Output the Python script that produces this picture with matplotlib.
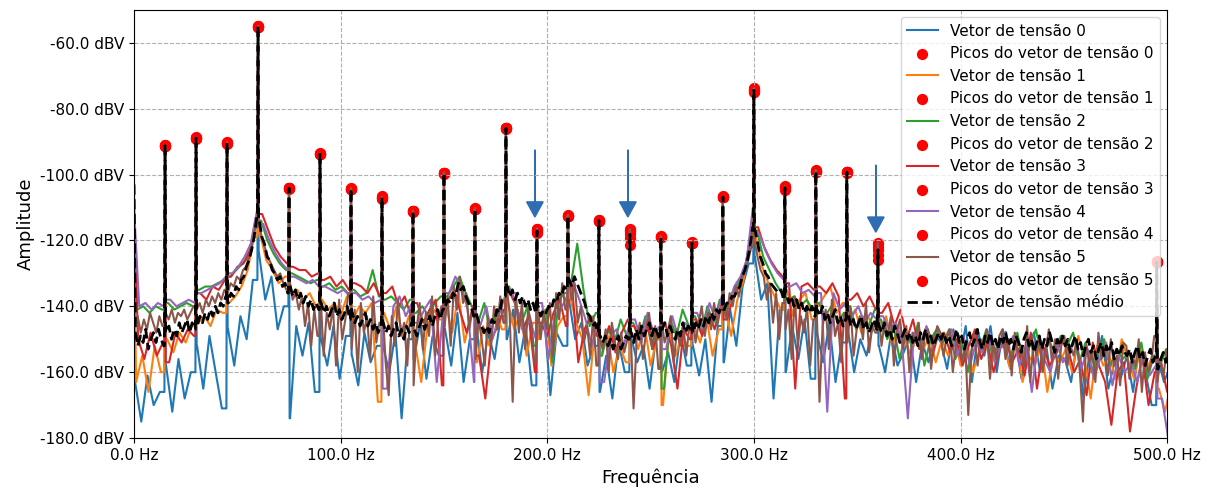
import numpy as np
import matplotlib.pyplot as plt
from matplotlib.ticker import FuncFormatter

# Frequências dos picos (harmônicos de 15 Hz) e níveis [dBV]
peak_freqs = [15, 30, 45, 60, 75, 90, 105, 120, 135, 150, 165, 180, 195, 210,
              225, 240, 255, 270, 285, 300, 315, 330, 345, 360, 495]
peaks_0 = [-91.3, -88.9, -90.4, -55.1, -104.1, -93.8, -104.4, -106.8, -111.1, -99.5, -110.5, -85.9, -116.6,
           -112.6, -114.0, -116.6, -119.0, -120.8, -106.8, -74.3, -103.8, -99.2, -99.2, -120.8, -126.6]
peaks_1 = [-91.0, -89.1, -90.2, -55.0, -104.3, -93.6, -104.2, -107.4, -111.3, -99.7, -110.3, -86.1, -117.8,
           -112.4, -113.8, -119.3, -118.8, -120.6, -106.5, -75.0, -104.6, -99.0, -99.4, -123.0, -126.4]
peaks_2 = [-91.2, -88.8, -90.5, -55.2, -104.0, -93.9, -104.5, -107.0, -111.0, -99.4, -110.6, -85.8, -116.9,
           -112.7, -114.1, -121.4, -119.1, -120.9, -106.9, -74.6, -103.5, -98.7, -99.1, -125.8, -126.7]
peaks_3 = [-91.4, -89.0, -90.3, -55.1, -104.2, -93.7, -104.3, -106.6, -111.2, -99.6, -110.4, -86.0, -117.2,
           -112.5, -113.9, -117.0, -118.9, -120.7, -106.7, -73.6, -104.0, -99.3, -99.3, -122.0, -126.5]
peaks_4 = [-91.1, -88.7, -90.6, -55.0, -104.1, -93.8, -104.4, -107.2, -111.1, -99.5, -110.5, -85.9, -116.5,
           -112.6, -114.0, -118.0, -119.0, -120.8, -106.8, -74.0, -104.2, -99.0, -99.2, -124.5, -126.6]
peaks_5 = [-91.3, -88.9, -90.4, -55.1, -104.1, -93.8, -104.4, -106.9, -111.1, -99.5, -110.5, -85.9, -117.5,
           -112.6, -114.0, -116.8, -119.0, -120.8, -106.8, -74.9, -103.8, -99.2, -99.2, -121.0, -126.6]

# Piso de ruído de cada vetor: 1º valor em 0 Hz, depois passo fixo a partir do offset
offsets = [0.5, 1.0, 1.5, 2.0, 2.5, 0.25]
steps = [3.0, 3.0, 3.0, 3.0, 3.0, 1.5]

vetor_0 = [-125,
           -163, -175, -161, -170, -166, -158, -172, -156, -168, -160,
           -152, -165, -149, -160, -171, -147, -158, -143, -150, -132,
           -124, -138, -131, -147, -140, -174, -146, -155, -145, -166,
           -150, -158, -146, -162, -149, -155, -164, -148, -157, -152,
           -152, -160, -148, -174, -150, -156, -145, -162, -149, -155,
           -147, -158, -142, -163, -150, -145, -160, -148, -156, -143,
           -150, -141, -157, -146, -164, -149, -143, -167, -148, -152,
           -138, -150, -145, -158, -152, -166, -155, -168, -151, -160,
           -149, -157, -152, -165, -150, -160, -154, -163, -148, -158,
           -152, -161, -150, -169, -146, -157, -141, -152, -134, -127,
           -125, -138, -133, -168, -141, -160, -146, -156, -144, -162,
           -148, -157, -145, -163, -151, -147, -160, -150, -155, -146,
           -152, -160, -148, -158, -154, -149, -163, -151, -157, -148,
           -151, -159, -147, -156, -146, -163, -148, -155, -146, -160,
           -147, -158, -150, -162, -153, -148, -160, -152, -165, -155,
           -156, -163, -151, -168, -154, -159, -149, -165, -157, -162,
           -155, -166, -152, -160, -170, -156, -163, -158, -161, -157]

vetor_1 = [-118,
           -163, -155, -166, -152, -160, -150, -154, -148, -151, -146,
           -145, -143, -146, -141, -142, -139, -137, -134, -129, -119,
           -118, -126, -129, -133, -131, -136, -135, -138, -136, -140,
           -138, -141, -139, -143, -137, -144, -140, -142, -139, -169,
           -142, -147, -140, -149, -143, -151, -163, -146, -141, -144,
           -140, -148, -136, -151, -143, -157, -146, -152, -141, -147,
           -139, -147, -142, -155, -145, -150, -141, -158, -146, -143,
           -137, -145, -150, -167, -147, -155, -148, -160, -152, -157,
           -148, -153, -145, -158, -150, -170, -147, -155, -149, -152,
           -146, -151, -143, -155, -147, -140, -149, -138, -132, -120,
           -119, -128, -133, -137, -141, -135, -143, -138, -136, -144,
           -140, -137, -134, -142, -139, -145, -141, -148, -143, -146,
           -147, -143, -152, -146, -150, -155, -148, -153, -149, -157,
           -150, -155, -148, -158, -152, -160, -154, -151, -157, -153,
           -152, -159, -150, -163, -155, -158, -151, -166, -154, -157,
           -153, -160, -149, -156, -168, -152, -158, -155, -162, -150,
           -156, -162, -153, -159, -155, -165, -172, -163, -158, -160]

vetor_2 = [-112,
           -141, -140, -142, -140, -141, -139, -141, -140, -139, -140,
           -135, -134, -134, -133, -132, -131, -129, -127, -125, -116,
           -114, -120, -124, -127, -129, -130, -131, -132, -133, -132,
           -134, -133, -135, -134, -136, -135, -137, -136, -129, -137,
           -138, -137, -139, -141, -138, -142, -140, -143, -139, -137,
           -137, -134, -131, -136, -140, -145, -139, -148, -142, -138,
           -134, -139, -145, -140, -152, -143, -141, -157, -138, -136,
           -133, -121, -135, -146, -142, -155, -147, -151, -144, -149,
           -145, -150, -143, -152, -147, -165, -144, -149, -141, -146,
           -143, -148, -140, -145, -138, -142, -136, -133, -129, -118,
           -117, -125, -129, -133, -136, -138, -137, -140, -138, -141,
           -139, -143, -140, -145, -142, -140, -147, -143, -146, -141,
           -144, -150, -146, -156, -148, -152, -145, -158, -150, -147,
           -151, -147, -156, -150, -160, -149, -153, -147, -155, -151,
           -150, -155, -148, -158, -152, -147, -157, -150, -154, -149,
           -152, -148, -157, -151, -160, -154, -150, -158, -153, -156,
           -154, -159, -151, -162, -155, -158, -153, -160, -156, -158]

vetor_3 = [-115,
           -150, -156, -148, -155, -151, -157, -148, -151, -147, -149,
           -136, -138, -134, -135, -132, -131, -128, -127, -123, -113,
           -112, -117, -122, -125, -127, -128, -129, -129, -131, -130,
           -132, -131, -134, -132, -135, -133, -134, -136, -133, -137,
           -136, -134, -140, -137, -143, -139, -145, -141, -138, -164,
           -138, -135, -142, -148, -140, -155, -168, -150, -146, -141,
           -136, -140, -147, -143, -160, -145, -149, -142, -138, -146,
           -134, -157, -147, -143, -149, -151, -146, -154, -148, -144,
           -146, -150, -144, -153, -148, -145, -152, -165, -147, -150,
           -144, -149, -142, -147, -139, -144, -137, -134, -128, -117,
           -116, -122, -126, -129, -131, -133, -165, -134, -133, -135,
           -134, -136, -133, -137, -168, -138, -136, -140, -137, -141,
           -142, -139, -146, -141, -150, -144, -153, -147, -156, -149,
           -148, -154, -150, -158, -152, -147, -156, -151, -160, -153,
           -150, -157, -153, -161, -148, -165, -152, -158, -155, -150,
           -153, -160, -156, -167, -151, -158, -163, -176, -160, -157,
           -178, -165, -155, -170, -160, -157, -166, -159, -162, -158]

vetor_4 = [-110,
           -140, -139, -141, -139, -140, -138, -140, -139, -138, -139,
           -136, -135, -134, -133, -131, -130, -128, -125, -121, -111,
           -115, -120, -124, -127, -129, -131, -132, -133, -132, -134,
           -134, -135, -136, -135, -137, -136, -138, -137, -139, -138,
           -165, -140, -137, -143, -139, -145, -141, -138, -163, -142,
           -136, -131, -134, -141, -163, -146, -140, -150, -143, -137,
           -135, -141, -148, -144, -150, -139, -156, -143, -141, -137,
           -133, -138, -144, -152, -145, -163, -149, -147, -153, -146,
           -144, -151, -142, -148, -146, -153, -143, -150, -145, -147,
           -142, -147, -139, -144, -137, -140, -134, -131, -126, -110,
           -118, -123, -127, -130, -132, -134, -133, -136, -135, -137,
           -136, -172, -136, -141, -139, -143, -140, -145, -142, -144,
           -143, -147, -145, -150, -174, -148, -152, -146, -151, -149,
           -150, -147, -155, -149, -158, -151, -154, -148, -157, -152,
           -153, -149, -158, -152, -166, -150, -156, -160, -151, -157,
           -154, -150, -159, -153, -162, -156, -151, -164, -155, -160,
           -157, -163, -154, -161, -158, -168, -180, -162, -159, -165]

vetor_5 = [-104,
           -146, -143, -148, -144, -147, -142, -145, -148, -143, -146, -142, -144, -141, -145, -142, -143, -141, -144, -142, -140,
           -141, -139, -142, -138, -140, -137, -139, -136, -138, -135, -136, -133, -134, -131, -132, -129, -128, -125, -121, -116,
           -114, -119, -122, -125, -127, -129, -131, -130, -133, -135, -132, -138, -136, -141, -137, -146, -139, -152, -141, -149,
           -137, -155, -142, -147, -140, -158, -138, -150, -144, -136, -153, -141, -160, -139, -148, -143, -156, -137, -151, -145,
           -140, -157, -167, -143, -152, -138, -149, -145, -158, -141, -164, -147, -139, -153, -142, -149, -137, -155, -144, -140,
           -146, -137, -152, -134, -141, -131, -139, -136, -147, -141, -156, -144, -150, -158, -143, -152, -140, -147, -137, -145,
           -134, -142, -169, -136, -148, -139, -153, -141, -145, -157, -138, -150, -142, -147, -139, -155, -136, -144, -133, -141,
           -130, -138, -133, -145, -140, -151, -146, -155, -143, -158, -149, -153, -147, -160, -145, -151, -156, -148, -154, -150,
           -147, -171, -150, -145, -156, -148, -142, -153, -146, -159, -144, -151, -148, -143, -157, -147, -152, -145, -155, -146,
           -143, -151, -145, -140, -149, -142, -147, -139, -146, -141, -138, -144, -136, -140, -134, -137, -131, -129, -126, -122,
           -120, -125, -129, -131, -138, -133, -145, -136, -150, -139, -147, -141, -156, -137, -152, -143, -148, -140, -158, -144,
           -139, -169, -146, -141, -153, -138, -149, -145, -157, -142, -151, -140, -155, -147, -143, -150, -139, -154, -146, -148,
           -141, -152, -145, -149, -143, -158, -147, -144, -153, -146, -160, -148, -151, -145, -156, -149, -147, -159, -150, -146,
           -148, -155, -150, -147, -160, -152, -149, -157, -151, -173, -154, -148, -158, -150, -153, -147, -162, -151, -156, -149,
           -147, -156, -150, -161, -148, -154, -152, -158, -146, -163, -151, -155, -149, -160, -153, -147, -157, -150, -162, -152,
           -149, -158, -152, -155, -150, -160, -175, -151, -157, -154, -163, -148, -156, -152, -161, -150, -158, -155, -164, -151,
           -152, -162, -155, -158, -150, -166, -154, -160, -157, -149, -163, -156, -161, -153, -158, -167, -155, -160, -157, -159]

# Vetor médio: 1º valor em 0 Hz, depois 0.625 Hz + 1.25 Hz * n
mean_step = 1.25
mean_offset = 0.625
vetor_medio = [-103,
               -148, -152, -149, -151, -147, -153, -150, -148, -151, -147, -150, -152, -148, -146, -150, -147, -149, -145, -148, -146, -144, -148, -145, -147,
               -146, -143, -145, -142, -144, -141, -143, -140, -142, -139, -140, -137, -139, -136, -137, -134, -135, -132, -131, -128, -126, -123, -119, -113,
               -114, -119, -121, -125, -126, -129, -130, -132, -131, -134, -133, -136, -134, -137, -135, -138, -136, -139, -137, -140, -138, -141, -139, -141,
               -139, -142, -140, -143, -141, -139, -143, -141, -144, -142, -140, -144, -142, -145, -143, -146, -144, -142, -146, -144, -147, -145, -148, -146,
               -145, -148, -146, -149, -147, -145, -149, -147, -150, -146, -148, -145, -147, -149, -146, -144, -147, -145, -143, -146, -143, -141, -144, -141,
               -140, -138, -139, -136, -137, -133, -135, -134, -137, -139, -140, -143, -142, -145, -146, -148, -146, -148, -144, -145, -141, -142, -138, -137,
               -134, -137, -135, -138, -136, -139, -137, -140, -138, -141, -139, -142, -140, -143, -141, -142, -140, -141, -138, -139, -136, -137, -134, -135,
               -132, -134, -131, -133, -135, -137, -139, -142, -143, -146, -145, -148, -149, -151, -149, -152, -150, -153, -151, -149, -153, -151, -149, -150,
               -148, -151, -147, -150, -146, -149, -147, -145, -149, -146, -148, -150, -147, -145, -149, -146, -148, -150, -147, -149, -145, -148, -146, -147,
               -148, -145, -147, -144, -146, -143, -145, -142, -144, -141, -142, -140, -141, -139, -139, -137, -137, -135, -134, -131, -129, -126, -122, -116,
               -117, -121, -125, -127, -130, -131, -133, -134, -135, -136, -135, -138, -136, -139, -137, -140, -138, -141, -139, -142, -140, -142, -140, -143,
               -141, -143, -140, -144, -142, -145, -143, -141, -145, -143, -146, -144, -142, -146, -144, -147, -145, -143, -147, -145, -148, -146, -144, -147,
               -146, -148, -145, -149, -147, -150, -146, -148, -151, -149, -147, -150, -148, -151, -149, -152, -148, -150, -147, -151, -149, -152, -150, -148,
               -150, -148, -151, -149, -152, -150, -147, -151, -149, -153, -150, -148, -152, -150, -147, -151, -153, -149, -151, -148, -152, -150, -153, -149,
               -151, -148, -152, -150, -153, -149, -151, -154, -150, -148, -152, -150, -154, -151, -149, -153, -150, -152, -148, -151, -154, -150, -152, -149,
               -152, -150, -154, -151, -149, -153, -151, -155, -152, -150, -154, -152, -156, -153, -151, -155, -152, -154, -151, -156, -153, -155, -152, -154,
               -155, -153, -157, -154, -152, -156, -154, -158, -155, -153, -157, -155, -159, -156, -154, -157, -155, -158, -154, -156, -153, -157, -155, -156]


def montar_espectro(valores, offset, passo, picos):
    # grade do ruído + cada pico como raia estreita (ombros repetem o ruído vizinho)
    f = np.concatenate([[0.0], offset + passo * np.arange(len(valores) - 1)])
    v = np.array(valores, dtype=float)
    fs, vs = [f], [v]
    for fp, vp in zip(peak_freqs, picos):
        esq = np.searchsorted(f, fp) - 1
        fs.append([fp - 0.3, fp, fp + 0.3])
        vs.append([v[esq], vp, v[esq + 1]])
    f = np.concatenate(fs)
    v = np.concatenate(vs)
    ordem = np.argsort(f, kind='stable')
    return f[ordem], v[ordem]


vetores = [vetor_0, vetor_1, vetor_2, vetor_3, vetor_4, vetor_5]
picos = [peaks_0, peaks_1, peaks_2, peaks_3, peaks_4, peaks_5]
picos_medio = np.mean(np.array(picos), axis=0)

fig, ax = plt.subplots(figsize=(12.12, 4.9), dpi=100)
fig.subplots_adjust(left=0.1106, right=0.963, bottom=0.106, top=0.98)

for i in range(6):
    f, v = montar_espectro(vetores[i], offsets[i], steps[i], picos[i])
    ax.plot(f, v, color=f'C{i}', label=f'Vetor de tensão {i}')
    ax.scatter(peak_freqs, picos[i], color='red', s=50, label=f'Picos do vetor de tensão {i}')

fm, vm = montar_espectro(vetor_medio, mean_offset, mean_step, picos_medio)
ax.plot(fm, vm, 'k--', lw=2, label='Vetor de tensão médio')

# setas indicando os harmônicos de interesse
setas = [(194, -92.5), (239, -92.5), (359, -97.1)]
for x0, y0 in setas:
    ax.arrow(x0, y0, 0, -15.8, head_width=8, head_length=4.6, fc='#2f6db3', ec='#2f6db3')

ax.set_xlim(0, 500)
ax.set_ylim(-180, -50)
ax.xaxis.set_major_formatter(FuncFormatter(lambda x, pos: f'{x:.1f} Hz'))
ax.yaxis.set_major_formatter(FuncFormatter(lambda y, pos: f'{y:.1f} dBV'))
ax.tick_params(labelsize=11)
ax.set_xlabel('Frequência', fontsize=13)
ax.set_ylabel('Amplitude', fontsize=13)
ax.grid(True, linestyle='--')
ax.legend(loc='upper right', fontsize=11)

plt.savefig('out.png', dpi=100)
